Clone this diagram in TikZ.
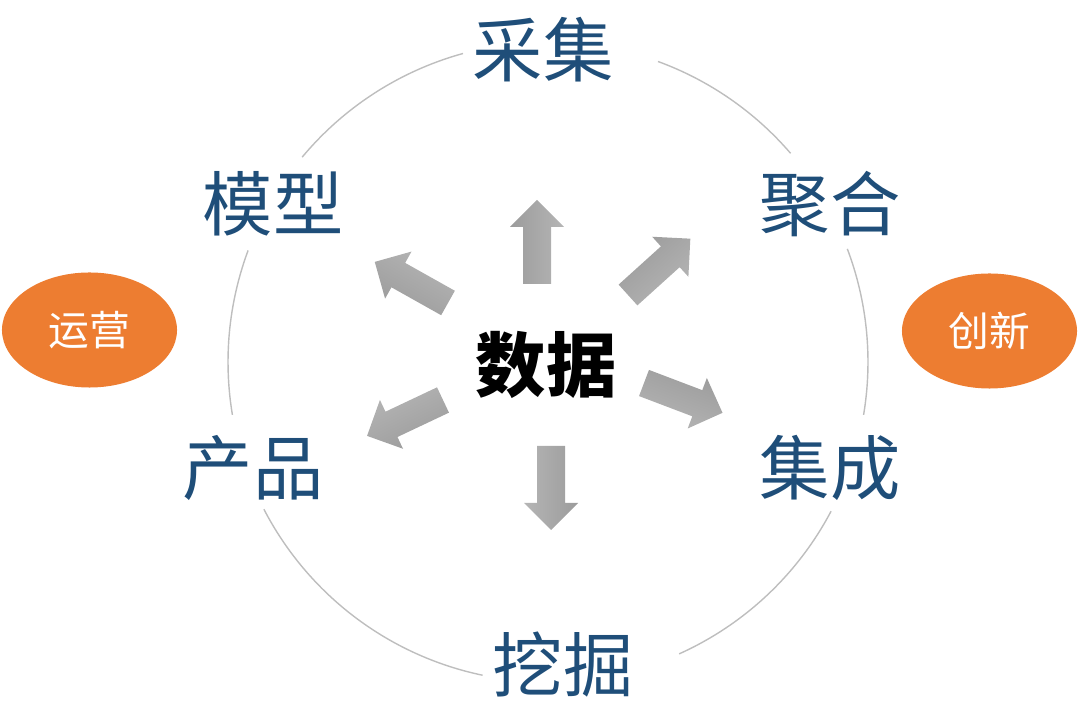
\documentclass[tikz,border=0pt]{standalone}
\usepackage{fontspec}
\usetikzlibrary{shapes.geometric}
\newfontfamily\cjk{Noto Sans CJK SC}
\definecolor{labelblue}{RGB}{31,78,121}
\definecolor{ovalorange}{RGB}{237,125,49}
\definecolor{ringgray}{RGB}{190,190,190}
\newcommand{\flowarrow}[3]{%
  \shade[left color=gray!78, right color=gray!58, shading angle=#3, shift={(#1,#2)}, rotate=#3]
    (0,-14) -- (57,-14) -- (57,-27) -- (84,0) -- (57,27) -- (57,14) -- (0,14) -- cycle;}

\begin{document}
\begin{tikzpicture}[x=0.025cm, y=0.025cm,
  ring/.style={ringgray, line width=1pt},
  steplabel/.style={text=labelblue, font=\cjk\fontsize{50}{50}\selectfont, inner sep=0pt},
  oval/.style={ellipse, fill=ovalorange, text=white, inner sep=0pt,
    minimum width=4.375cm, minimum height=2.875cm, font=\cjk\fontsize{29}{29}\selectfont}]
  \useasboundingbox (0,0) rectangle (1080,710);

  \coordinate (hub) at (548,348);
  \foreach \a/\b in {105.4/140.2, 40.7/69.9, -9.5/20.7, -65.8/-27.8, -152.6/-101.8, 159.6/189.5}
    \draw[ring] ([shift={(\a:320)}]hub) arc[start angle=\a, end angle=\b, radius=320];

  \foreach \x/\y/\a in {537/426/90, 628/415/42.1, 644/327/-20.8, 551/264/-90, 443/310/205.3, 448/407/150.7}
    \flowarrow{\x}{\y}{\a};

  \node[steplabel] (caiji) at (543,660) {采集};
  \node[steplabel] (juhe) at (830,506) {聚合};
  \node[steplabel] (jicheng) at (830,242) {集成};
  \node[steplabel] (wajue) at (563,45) {挖掘};
  \node[steplabel] (chanpin) at (253,242) {产品};
  \node[steplabel] (moxing) at (273,506) {模型};

  \node[font=\cjk\bfseries\fontsize{50}{50}\selectfont, inner sep=0pt] (shuju) at (546,345) {数据};

  \node[oval] (yunying) at (89.5,380) {运营};
  \node[oval] (chuangxin) at (989.5,379) {创新};
\end{tikzpicture}
\end{document}
